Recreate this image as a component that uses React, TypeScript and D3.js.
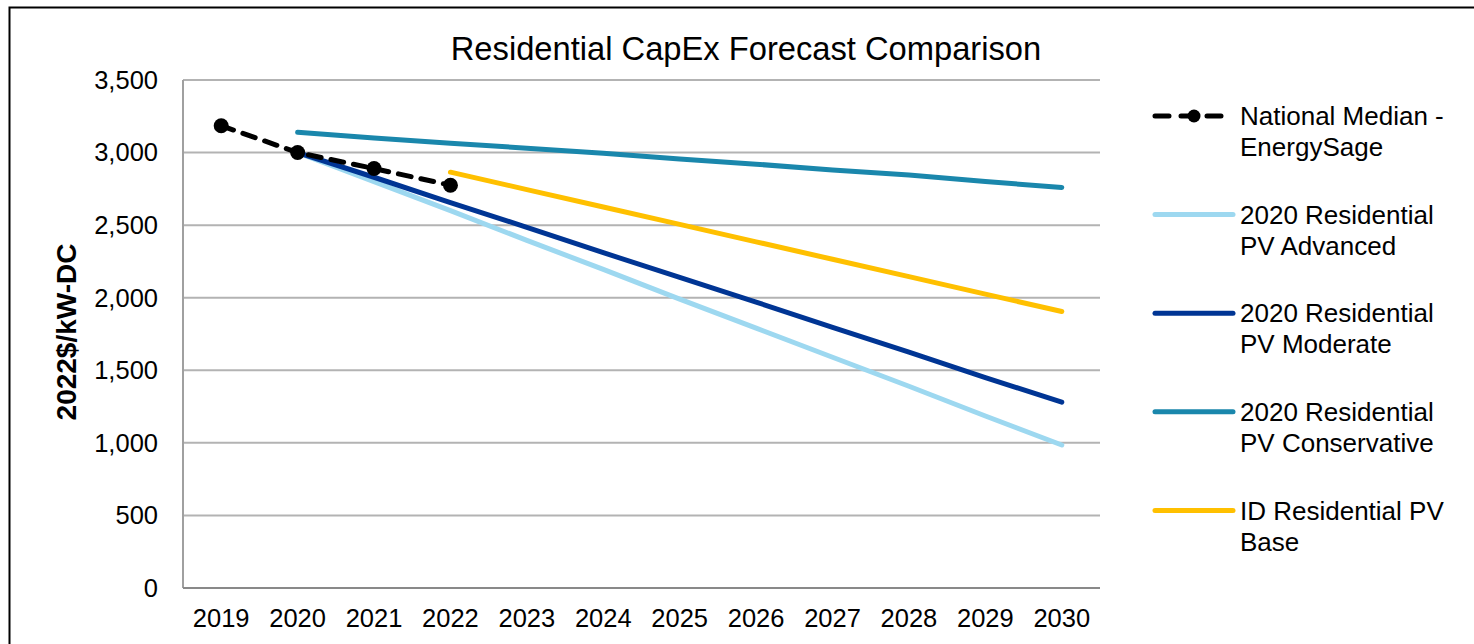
import React from "react";
import * as d3 from "d3";

const years = ["2019", "2020", "2021", "2022", "2023", "2024", "2025", "2026", "2027", "2028", "2029", "2030"];
const yTicks = [0, 500, 1000, 1500, 2000, 2500, 3000, 3500];

const medianYears = ["2019", "2020", "2021", "2022"];
const medianValues = [3185, 3000, 2890, 2775];

const forecastYears = ["2020", "2021", "2022", "2023", "2024", "2025", "2026", "2027", "2028", "2029", "2030"];
const advancedValues = [3000, 2800, 2600, 2395, 2195, 1990, 1790, 1590, 1390, 1185, 985];
const moderateValues = [3000, 2830, 2655, 2485, 2310, 2140, 1970, 1795, 1625, 1450, 1280];
const conservativeValues = [3140, 3100, 3065, 3030, 2995, 2955, 2920, 2880, 2845, 2800, 2760];

const baseYears = ["2022", "2023", "2024", "2025", "2026", "2027", "2028", "2029", "2030"];
const baseValues = [2865, 2745, 2625, 2505, 2385, 2265, 2145, 2025, 1905];

const series = [
  { label: ["National Median -", "EnergySage"], years: medianYears, values: medianValues, color: "#000000", dashed: true },
  { label: ["2020 Residential", "PV Advanced"], years: forecastYears, values: advancedValues, color: "#9DD8F0", dashed: false },
  { label: ["2020 Residential", "PV Moderate"], years: forecastYears, values: moderateValues, color: "#003594", dashed: false },
  { label: ["2020 Residential", "PV Conservative"], years: forecastYears, values: conservativeValues, color: "#1A87AC", dashed: false },
  { label: ["ID Residential PV", "Base"], years: baseYears, values: baseValues, color: "#FFC000", dashed: false },
];

const W = 1474;
const H = 644;
const plot = { left: 183, right: 1100, top: 80, bottom: 588 };
const font = "'Liberation Sans', Arial, sans-serif";

export default function App() {
  const x = d3.scaleBand<string>().domain(years).range([plot.left, plot.right]);
  const y = d3.scaleLinear().domain([0, 3500]).range([plot.bottom, plot.top]);
  const cx = (yr: string) => (x(yr) ?? 0) + x.bandwidth() / 2;

  const line = (ys: string[], vs: number[]) =>
    d3.line<number>().x((_, i) => cx(ys[i])).y((v) => y(v))(vs) ?? "";

  // draw order: conservative, advanced, moderate, base, then median on top
  const drawOrder = [3, 1, 2, 4, 0];

  return (
    <svg width={W} height={H} style={{ position: "absolute", left: 0, top: 0 }} fontFamily={font}>
      <rect x={0} y={0} width={W} height={H} fill="#fff" />
      <rect x={9.5} y={7.5} width={W + 20} height={H + 20} fill="none" stroke="#000" strokeWidth={2} />

      <text x={746} y={60} textAnchor="middle" fontSize={32.7} fill="#000">
        Residential CapEx Forecast Comparison
      </text>

      {yTicks.map((t) => (
        <g key={t}>
          {t > 0 && (
            <line x1={plot.left} x2={plot.right} y1={y(t)} y2={y(t)} stroke="#b3b3b3" strokeWidth={2} />
          )}
          <text x={158} y={y(t)} dy="0.35em" textAnchor="end" fontSize={25.5} fill="#000">
            {d3.format(",")(t)}
          </text>
        </g>
      ))}
      <line x1={plot.left} x2={plot.left} y1={plot.top} y2={plot.bottom} stroke="#a0a0a0" strokeWidth={2} />
      <line x1={plot.left} x2={plot.right} y1={plot.bottom} y2={plot.bottom} stroke="#898989" strokeWidth={2} />

      {years.map((yr) => (
        <text key={yr} x={cx(yr)} y={627} textAnchor="middle" fontSize={25.5} fill="#000">
          {yr}
        </text>
      ))}

      <text
        transform={`translate(76, 332) rotate(-90)`}
        textAnchor="middle"
        fontSize={28}
        fontWeight="bold"
        fill="#000"
      >
        2022$/kW-DC
      </text>

      {drawOrder.map((i) => {
        const s = series[i];
        return (
          <g key={i}>
            <path
              d={line(s.years, s.values)}
              fill="none"
              stroke={s.color}
              strokeWidth={5}
              strokeLinecap="round"
              strokeDasharray={s.dashed ? "13 10" : undefined}
            />
            {s.dashed &&
              s.values.map((v, j) => <circle key={j} cx={cx(s.years[j])} cy={y(v)} r={7.5} fill="#000" />)}
          </g>
        );
      })}

      {series.map((s, i) => {
        const ly = 116 + i * 98.6;
        return (
          <g key={i}>
            {s.dashed ? (
              <g>
                <line x1={1155} x2={1233} y1={ly} y2={ly} stroke="#000" strokeWidth={5} strokeLinecap="round" strokeDasharray="14 12" />
                <circle cx={1194} cy={ly} r={6.5} fill="#000" />
              </g>
            ) : (
              <line x1={1155} x2={1233} y1={ly} y2={ly} stroke={s.color} strokeWidth={5} strokeLinecap="round" />
            )}
            {s.label.map((t, k) => (
              <text key={k} x={1240} y={ly + k * 31} dy="0.35em" fontSize={26} fill="#000">
                {t}
              </text>
            ))}
          </g>
        );
      })}
    </svg>
  );
}
